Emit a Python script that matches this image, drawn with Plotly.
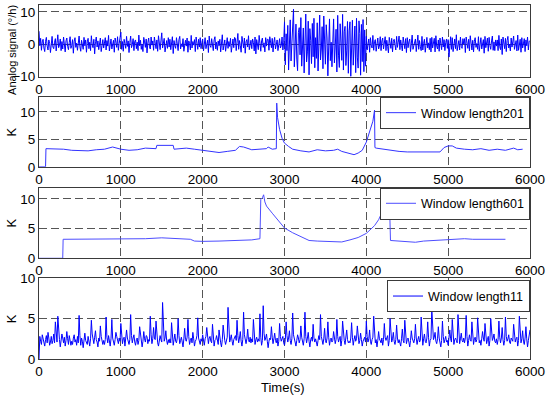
import plotly.graph_objects as go

# ---------------- data ----------------
# Panel 1: analog signal (deg/h), one value every 10 s from 0 to 6000 s
signal = [
    4.0, -0.5, 1.8, -1.9, 0.7, 1.5, -1.2, -2.3, 0.9, 2.1, -0.6, -1.8, 1.3, 0.2, -2.6, 1.1, 2.4, -0.9, -1.4, 0.6,
    1.7, -2.1, 0.4, 2.9, -1.1, -0.3, 1.6, -2.0, 0.8, -1.5, 2.2, 0.1, -2.4, 1.0, 1.9, -0.7, -1.7, 0.5, 2.3, -1.3,
    -0.4, 1.4, -2.8, 0.9, 2.0, -1.0, 0.3, -1.9, 1.7, 2.5, -0.8, -2.2, 1.2, 0.0, -1.6, 2.1, -0.5, 1.3, -2.5, 0.7,
    1.8, -1.4, 0.6, -2.0, 2.6, -0.2, -1.1, 1.5, -3.0, 0.8, 2.2, -0.9, 1.0, -1.7, 0.4, 1.9, -2.3, -0.1, 1.4, -1.2,
    0.5, 2.0, -1.8, 1.1, -0.6, 2.7, -2.1, 0.3, 1.6, -1.5, -0.4, 1.2, -2.5, 1.9, 0.6, -1.0, 2.3, -1.9, 0.2, 1.4,
    3.7, -1.6, 0.8, -2.2, 1.5, 0.1, -1.3, 2.4, -0.7, 1.0, -2.6, 0.5, 2.5, -1.1, -0.2, 1.7, -2.0, 0.9, 1.3, -1.4,
    0.6, -2.0, 2.8, -0.5, 1.2, -1.6, 0.0, -2.3, 2.1, 0.7, -1.0, 1.6, -2.7, 0.4, 1.9, -0.8, -1.5, 2.2, -0.3, 1.0,
    -1.9, 2.2, 0.3, -1.4, 1.3, -2.2, 2.6, -0.6, -1.7, 1.0, 3.5, -1.2, 0.5, 1.8, -2.4, 0.2, 1.1, -1.3, 2.0, -0.9,
    1.5, -1.7, 0.4, 2.3, -2.9, 1.1, -0.5, -1.3, 2.0, 0.6, -2.0, 1.4, 2.4, -1.5, 0.1, -0.8, 1.7, -2.2, 0.9, 1.2,
    -0.6, 1.9, -2.5, 1.0, 0.3, -1.8, 2.7, -1.2, 0.8, -0.3, 1.4, -2.3, 2.2, 0.0, -1.6, 1.5, -0.9, 2.0, -1.4, 0.5,
    1.6, -2.1, 0.7, 2.0, -1.4, -0.2, 1.2, -2.6, 2.5, -0.4, -1.0, 1.7, 0.2, -2.0, 1.3, 2.3, -1.5, 0.6, -1.9, 1.0,
    -0.5, 1.5, -2.4, 0.9, 2.9, -1.8, 0.4, 1.3, -2.2, 0.1, 2.0, -1.3, 0.8, -0.7, 1.8, -2.5, 0.3, 1.6, -1.1, 2.1,
    1.8, -2.0, 0.6, 3.3, -1.6, 1.1, -0.4, -2.5, 2.4, 0.2, -1.2, 1.9, -2.8, 0.7, 1.4, -0.9, 2.6, -1.7, 0.0, 1.2,
    -1.4, 1.6, 0.5, -2.1, 2.2, -3.0, 1.4, -0.3, -1.7, 2.7, 0.8, -2.2, 1.0, 1.9, -1.0, 0.4, -2.4, 2.0, -0.6, 1.5,
    1.5, -1.9, 2.3, -0.2, -1.1, 1.8, -2.4, 0.6, 2.1, -1.5, 0.3, 1.3, -2.0, 0.9, 1.7, -1.2, -0.5, 2.2, -1.8, 0.4,
    6.9, -6.4, 3.2, -2.0, 5.8, -8.0, 1.5, 7.5, -5.2, -1.0, 4.3, 10.8, -7.0, 2.5, 6.2, -4.6, -8.2, 3.6, 5.1, -3.3,
    8.2, -6.8, 0.8, 5.0, -8.9, 2.7, 9.3, -5.5, -2.4, 7.1, -9.5, 4.8, 1.2, -6.0, 6.4, -3.9, 8.0, -7.3, 2.0, -4.4,
    6.6, -8.3, 3.1, 9.0, -4.9, -1.5, 5.4, -7.6, 8.7, -2.8, -6.2, 6.0, 1.9, -9.8, 4.5, 7.8, -5.1, 0.6, -7.0, 5.7,
    7.8, -5.8, 2.2, 4.6, -8.6, 8.9, -3.4, -7.2, 6.3, 0.9, -5.0, 9.2, -8.0, 3.8, 5.5, -6.6, -2.1, 7.0, -9.0, 4.1,
    6.9, -10.0, 2.9, 7.4, -6.5, -1.2, 5.6, -8.8, 8.0, -4.0, -7.4, 7.2, 3.3, -9.6, 6.1, -5.4, 7.6, -8.5, 4.4, -6.8,
    2.4, -1.8, 0.5, 1.6, -2.5, 2.0, -0.3, -1.2, 2.7, -1.9, 0.8, 1.4, -2.2, 0.2, 1.9, -1.5, -0.6, 2.3, -2.0, 1.0,
    1.9, -1.5, 0.3, 2.3, -2.0, 1.2, -0.7, -2.7, 2.1, 0.4, -1.3, 1.8, -2.4, 0.9, 1.5, -0.2, -1.8, 2.4, -1.0, 0.6,
    2.5, -1.7, 1.3, -0.4, -2.1, 2.2, 0.1, -1.4, 1.7, -2.6, 2.0, -1.1, 0.7, 1.6, -2.3, 0.3, 2.8, -1.6, -0.5, 1.1,
    1.6, -2.3, 0.6, 2.8, -1.6, 1.1, -0.8, -2.0, 2.4, -1.8, 0.2, 1.5, -2.5, 1.0, 2.1, -1.2, 0.4, -1.7, 1.8, -2.4,
    2.1, -1.2, 0.9, 1.8, -2.4, 2.6, -0.6, -1.5, 1.3, -2.2, 1.9, 0.3, -1.7, 2.2, -0.9, 1.4, -2.0, 0.5, 1.6, -1.3,
    1.4, -4.0, 0.8, 2.3, -1.6, 2.0, -2.3, 0.2, 1.6, -1.4, 2.9, -2.0, 0.6, 1.1, -1.8, 2.2, -0.7, -1.3, 1.7, 0.0,
    1.7, -2.6, 2.2, -0.5, -1.3, 1.5, -2.1, 2.6, 0.4, -1.8, 1.2, -2.4, 0.9, 2.0, -1.0, 0.2, -1.6, 2.3, -2.2, 1.4,
    2.0, -1.5, 0.6, 1.4, -2.8, 2.4, -1.1, 0.3, 1.9, -2.2, 2.1, -0.4, -1.6, 1.0, 2.5, -1.9, 0.7, -2.0, 1.3, -0.6,
    1.3, -2.0, 2.7, -0.8, -1.7, 1.6, -3.2, 2.2, 0.5, -1.4, 1.8, -2.3, 1.1, 2.4, -1.2, 0.0, -2.1, 1.9, -0.9, 1.5,
    2.5, -1.6, 0.4, 1.1, -2.1, 2.8, -1.9, 0.8, 1.5, -2.5, 2.0, -1.2, 0.6, 1.7, -2.3, 1.3, -0.5, 2.2, -1.8, 0.9,
    1.0,
]
t_sig = [10 * i for i in range(len(signal))]

# Panel 2: K, window length 201
t_k201 = [0, 80, 85, 200, 300, 400, 500, 600, 700, 800, 900, 950, 1000, 1100, 1200,
          1300, 1400, 1430, 1440, 1500, 1600, 1640, 1650, 1700, 1800, 1900, 2000, 2100,
          2200, 2300, 2400, 2450, 2500, 2600, 2700, 2780, 2800, 2850, 2900, 2905, 2915,
          2940, 2970, 3000, 3050, 3100, 3200, 3300, 3400, 3500, 3600, 3650, 3700, 3800,
          3850, 3900, 3950, 4000, 4050, 4080, 4100, 4105, 4120, 4200, 4300, 4400, 4500,
          4600, 4700, 4800, 4890, 4900, 4950, 5000, 5050, 5100, 5200, 5300, 5400, 5500,
          5600, 5700, 5800, 5850, 5910]
k201 = [0, 0, 3.3, 3.3, 3.2, 3.0, 3.0, 2.9, 3.1, 3.2, 3.6, 3.4, 3.2, 3.0, 3.1,
        3.4, 3.3, 3.3, 3.9, 3.9, 4.0, 3.9, 3.2, 3.3, 3.4, 3.2, 3.0, 2.8,
        2.6, 2.8, 3.0, 3.7, 3.6, 3.1, 3.2, 3.3, 3.6, 3.2, 3.3, 11.6, 9.0,
        6.8, 5.2, 4.3, 3.7, 3.2, 2.9, 2.7, 3.1, 2.9, 3.0, 3.2, 2.8, 2.4,
        2.2, 2.5, 3.0, 4.5, 6.8, 8.3, 10.3, 3.5, 3.4, 3.2, 3.0, 2.8, 2.7,
        2.7, 2.7, 2.6, 2.7, 2.7, 3.5, 3.8, 3.8, 3.4, 3.2, 3.1, 3.3, 3.0,
        3.2, 3.0, 3.4, 3.1, 3.2]

# Panel 3: K, window length 601
t_k601 = [0, 290, 295, 500, 700, 900, 1100, 1300, 1500, 1700, 1850, 1900, 2000, 2200,
          2400, 2600, 2700, 2710, 2730, 2745, 2760, 2780, 2850, 2900, 3000, 3100, 3200,
          3300, 3400, 3500, 3600, 3700, 3800, 3900, 4000, 4100, 4150, 4200, 4220, 4235,
          4260, 4285, 4295, 4400, 4500, 4600, 4700, 4800, 4900, 5000, 5100, 5200, 5300,
          5400, 5500, 5600, 5700]
k601 = [0, 0, 3.2, 3.2, 3.2, 3.2, 3.2, 3.3, 3.45, 3.35, 3.2, 2.9, 2.85, 2.9,
        3.0, 3.1, 3.3, 9.9, 10.2, 10.7, 9.5, 8.8, 7.6, 6.8, 5.1, 4.3, 3.6,
        3.0, 2.9, 2.85, 2.8, 2.75, 3.1, 3.5, 4.2, 5.5, 6.5, 8.0, 9.0, 10.0,
        9.0, 8.3, 3.0, 2.9, 2.8, 2.7, 2.9, 3.0, 3.1, 3.2, 3.3, 3.3, 3.2,
        3.2, 3.2, 3.1, 3.2]

# Panel 4: K, window length 11, one value every 10 s from 0 to 6000 s
k11 = [
    0, 2.8, 2.2, 1.8, 3.0, 2.5, 2.2, 1.6, 2.4, 2.9, 2.0, 3.3, 2.6, 1.7, 2.1, 2.8, 1.9, 2.3, 3.1, 2.0,
    4.6, 3.0, 2.1, 5.3, 2.8, 2.4, 1.5, 2.2, 3.1, 2.6, 2.0, 2.7, 1.6, 2.3, 3.4, 2.5, 1.8, 2.9, 2.2, 1.7,
    2.2, 1.8, 2.6, 3.0, 2.1, 2.4, 1.7, 2.8, 2.0, 5.4, 2.9, 1.7, 2.6, 2.2, 1.4, 2.5, 3.2, 2.3, 2.0, 1.8,
    2.8, 2.2, 1.6, 2.5, 4.8, 3.1, 2.3, 1.9, 2.7, 3.5, 2.4, 2.1, 1.5, 2.6, 2.2, 4.1, 2.8, 2.4, 1.8, 2.3,
    1.8, 2.4, 5.2, 2.7, 2.0, 2.9, 2.3, 1.6, 2.5, 4.9, 2.6, 2.2, 1.7, 2.4, 3.3, 2.8, 2.1, 1.9, 2.6, 2.2,
    4.4, 2.7, 1.9, 2.5, 2.7, 1.6, 2.3, 3.6, 2.6, 2.2, 1.8, 2.4, 5.5, 2.9, 2.0, 2.6, 3.0, 2.1, 1.7, 2.4,
    2.6, 1.8, 2.3, 4.0, 2.8, 2.3, 1.5, 2.2, 3.4, 2.5, 2.1, 2.9, 2.8, 1.9, 2.4, 2.2, 5.3, 3.0, 1.9, 2.5,
    3.9, 2.6, 2.4, 4.7, 3.0, 2.0, 1.6, 2.3, 2.9, 2.4, 2.1, 7.0, 3.2, 2.2, 2.6, 3.5, 2.3, 1.8, 2.4, 2.0,
    2.5, 2.0, 4.5, 2.7, 1.7, 2.4, 3.1, 2.2, 2.0, 2.6, 5.0, 2.9, 1.9, 2.3, 2.7, 2.1, 1.5, 2.5, 3.8, 2.4,
    2.2, 2.7, 4.9, 2.8, 1.8, 2.3, 2.6, 2.0, 3.3, 2.5, 1.6, 2.2, 2.4, 2.9, 5.1, 2.6, 2.1, 1.8, 2.5, 2.2,
    3.0, 2.4, 1.7, 2.5, 2.8, 3.9, 2.2, 1.9, 2.6, 2.8, 2.2, 2.0, 4.3, 2.7, 1.6, 2.3, 2.4, 2.9, 2.0, 1.8,
    3.6, 2.5, 2.0, 1.5, 2.4, 4.2, 2.6, 2.3, 1.8, 2.2, 2.7, 6.4, 3.1, 2.1, 2.5, 3.0, 2.2, 1.7, 2.4, 2.6,
    2.9, 2.3, 4.8, 2.9, 2.0, 2.6, 3.4, 2.2, 1.6, 2.4, 5.8, 3.0, 2.2, 1.9, 2.5, 3.7, 2.4, 2.1, 2.7, 2.0,
    2.5, 2.1, 4.9, 2.8, 1.8, 2.4, 2.7, 2.1, 2.5, 2.2, 5.6, 2.7, 1.7, 2.3, 6.6, 3.2, 2.3, 2.6, 3.1, 2.2,
    1.4, 2.2, 2.6, 2.4, 4.0, 2.7, 1.9, 2.5, 3.2, 2.3, 2.0, 2.6, 1.6, 2.2, 4.4, 2.8, 2.2, 2.5, 2.8, 2.0,
    1.7, 2.4, 4.6, 2.9, 2.1, 2.6, 3.5, 2.3, 1.8, 2.5, 5.7, 3.0, 2.4, 2.0, 1.6, 2.3, 3.0, 2.6, 2.0, 2.4,
    4.1, 2.7, 2.3, 1.7, 2.5, 5.8, 2.8, 2.0, 2.6, 3.3, 2.2, 1.5, 2.4, 2.7, 2.2, 4.3, 2.6, 2.1, 2.5, 1.9,
    1.6, 2.3, 2.9, 2.4, 5.5, 2.8, 2.2, 1.8, 2.5, 3.8, 2.3, 2.0, 2.6, 4.6, 2.7, 1.7, 2.4, 2.6, 2.1, 2.3,
    3.4, 2.5, 1.9, 2.4, 4.9, 2.8, 2.1, 2.5, 2.8, 1.6, 2.3, 4.7, 2.9, 2.3, 1.8, 2.6, 3.6, 2.4, 2.0, 2.2,
    2.0, 2.6, 4.5, 2.7, 1.7, 2.4, 2.9, 2.2, 2.5, 4.1, 2.6, 1.9, 2.3, 3.2, 2.4, 1.6, 2.2, 2.5, 2.7, 2.1,
    4.7, 2.8, 2.1, 2.5, 3.6, 2.2, 1.8, 2.4, 2.7, 5.3, 2.9, 2.0, 2.4, 1.5, 2.3, 3.4, 2.5, 2.2, 2.0, 2.6,
    1.7, 2.4, 4.4, 2.7, 2.3, 2.6, 2.9, 1.6, 2.3, 5.0, 2.8, 2.1, 2.5, 3.3, 2.2, 1.8, 2.4, 4.2, 2.6, 2.0,
    2.4, 2.1, 1.6, 2.5, 3.7, 2.3, 2.0, 4.8, 2.7, 1.9, 2.4, 2.6, 2.1, 1.5, 2.3, 3.5, 2.6, 2.2, 2.0, 2.5,
    4.3, 2.6, 1.8, 2.4, 2.8, 2.1, 2.3, 5.2, 2.9, 1.7, 2.5, 3.1, 2.2, 2.0, 2.6, 4.6, 2.7, 1.6, 2.3, 2.5,
    6.2, 3.1, 2.4, 2.7, 3.3, 2.2, 1.9, 2.5, 4.0, 2.6, 2.2, 1.5, 2.3, 4.7, 2.8, 2.0, 2.4, 2.8, 2.1, 2.3,
    1.7, 2.4, 3.6, 2.5, 2.1, 4.9, 2.9, 1.8, 2.4, 2.6, 2.3, 2.0, 5.5, 3.0, 1.9, 2.5, 3.2, 2.3, 2.1, 2.6,
    2.0, 2.6, 5.4, 2.8, 1.6, 2.3, 3.0, 2.4, 2.2, 4.6, 2.7, 1.8, 2.5, 2.7, 2.1, 2.4, 5.1, 2.9, 2.0, 2.3,
    1.7, 2.5, 3.4, 2.6, 2.2, 4.4, 2.8, 1.9, 2.4, 2.8, 1.6, 2.3, 5.0, 2.9, 2.3, 2.6, 3.1, 2.2, 2.0, 2.5,
    1.8, 2.4, 4.7, 2.7, 2.0, 2.6, 3.9, 2.4, 1.7, 2.3, 5.2, 2.8, 2.2, 2.5, 3.0, 2.1, 1.9, 2.6, 2.4, 2.2,
    4.3, 2.7, 2.1, 2.5, 2.7, 1.6, 2.3, 5.3, 2.9, 2.0, 2.5, 3.5, 2.2, 1.8, 2.6, 4.0, 2.5, 1.5, 2.3, 2.8,
    3.6,
]
t_k11 = [10 * i for i in range(len(k11))]

x_ticks = [0, 1000, 2000, 3000, 4000, 5000, 6000]
y_ticks_sig = [-10, 0, 10]
y_ticks_k = [0, 5, 10]
legend_names = ["Window length201", "Window length601", "Window length11"]

# ---------------- figure ----------------
FONT = "Liberation Sans, Arial, Helvetica, sans-serif"
fig = go.Figure()

fig.add_trace(go.Scatter(x=t_sig, y=signal, mode="lines", line=dict(color="#0000ff", width=1),
                         xaxis="x", yaxis="y", showlegend=False))
fig.add_trace(go.Scatter(x=t_k201, y=k201, mode="lines", line=dict(color="#3333ff", width=1),
                         xaxis="x2", yaxis="y2", name=legend_names[0], legend="legend"))
fig.add_trace(go.Scatter(x=t_k601, y=k601, mode="lines", line=dict(color="#4d4dff", width=1),
                         xaxis="x3", yaxis="y3", name=legend_names[1], legend="legend2"))
fig.add_trace(go.Scatter(x=t_k11, y=k11, mode="lines", line=dict(color="#0000ff", width=1),
                         xaxis="x4", yaxis="y4", name=legend_names[2], legend="legend3"))

domains = [[0.798, 1.0], [0.543, 0.740], [0.2845, 0.484], [0.0, 0.228]]
yranges = [[-10, 12.1], [0, 12.7], [0, 11.9], [0, 10]]
yticks = [y_ticks_sig, y_ticks_k, y_ticks_k, y_ticks_k]

common_axis = dict(
    showline=True, mirror=True, linecolor="#3a3a3a", linewidth=1,
    showgrid=True, gridcolor="#555555", griddash="8px,4px", gridwidth=1,
    zeroline=False, ticks="", automargin=False,
    tickfont=dict(size=13.5, color="black", family=FONT),
)

layout = dict(
    width=550, height=395,
    margin=dict(l=39, r=20, t=5, b=36),
    paper_bgcolor="white", plot_bgcolor="white",
    font=dict(family=FONT, size=13, color="black"),
)
for i in range(4):
    sx = "" if i == 0 else str(i + 1)
    layout["xaxis" + sx] = dict(common_axis, domain=[0, 1], range=[0, 6000],
                                tickvals=x_ticks, anchor="y" + sx)
    layout["yaxis" + sx] = dict(common_axis, domain=domains[i], range=yranges[i],
                                tickvals=yticks[i], anchor="x" + sx)

leg_common = dict(xanchor="right", yanchor="top", x=1.0, bgcolor="white",
                  bordercolor="#3a3a3a", borderwidth=1,
                  font=dict(size=12.5, family=FONT, color="black"),
                  itemwidth=30, tracegroupgap=0)
layout["legend"] = dict(leg_common, y=0.740)
layout["legend2"] = dict(leg_common, y=0.484)
layout["legend3"] = dict(leg_common, y=0.222)

fig.update_layout(**layout)

ann_font = dict(size=13, family=FONT, color="black")
fig.add_annotation(text="Analog signal (°/h)", textangle=-90, xref="paper", yref="paper",
                   x=-0.055, y=0.873, xanchor="center", yanchor="middle", showarrow=False,
                   font=dict(size=11, family=FONT, color="black"))
for d in domains[1:]:
    fig.add_annotation(text="K", textangle=-90, xref="paper", yref="paper",
                       x=-0.056, y=(d[0] + d[1]) / 2, xanchor="center", yanchor="middle",
                       showarrow=False, font=ann_font)
fig.add_annotation(text="Time(s)", xref="paper", yref="paper", x=0.497, y=-0.081,
                   xanchor="center", yanchor="middle", showarrow=False, font=ann_font)

fig.write_html("out.html", config={"displayModeBar": False},
               post_script="document.body.style.margin='0';document.body.style.padding='0';")
